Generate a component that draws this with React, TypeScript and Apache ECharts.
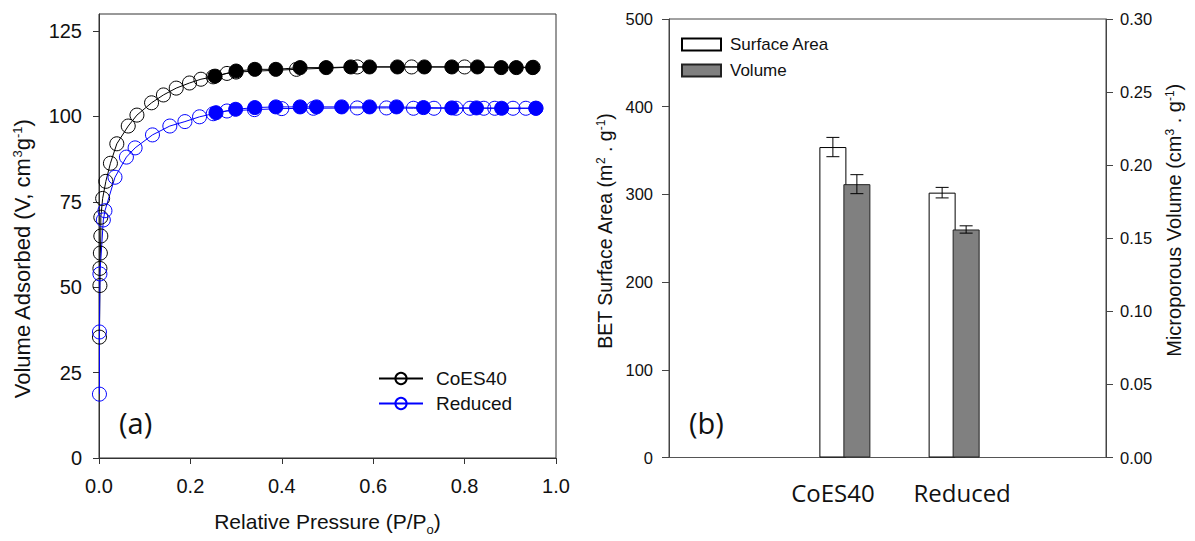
import React, { useEffect, useRef } from 'react';
import * as echarts from 'echarts';

// ---------- Panel (a): N2 isotherms ----------
const X_TICKS_A = [0, 0.2, 0.4, 0.6, 0.8, 1.0];
const Y_TICKS_A = [0, 25, 50, 75, 100, 125];

const coesAdsX = [0.001, 0.002, 0.002, 0.003, 0.004, 0.004, 0.008, 0.015, 0.025, 0.039, 0.064, 0.083, 0.115, 0.141, 0.169, 0.198, 0.223, 0.25, 0.28, 0.30, 0.432, 0.565, 0.684, 0.80, 0.95];
const coesAdsY = [35.4, 50.5, 55.5, 60, 65, 70.5, 76, 81, 86.3, 92, 97.2, 100.4, 104, 106.3, 108.3, 109.8, 110.9, 111.6, 112.6, 113.0, 113.8, 114.5, 114.5, 114.5, 114.4];

const coesDesX = [0.949, 0.913, 0.88, 0.828, 0.772, 0.712, 0.653, 0.592, 0.551, 0.497, 0.44, 0.387, 0.341, 0.30, 0.254];
const coesDesY = [114.3, 114.3, 114.3, 114.5, 114.5, 114.5, 114.5, 114.5, 114.5, 114.3, 114.3, 113.8, 113.8, 113.3, 111.8];

const redAdsX = [0.001, 0.001, 0.002, 0.0095, 0.013, 0.035, 0.06, 0.079, 0.117, 0.155, 0.188, 0.22, 0.25, 0.28, 0.34, 0.40, 0.469, 0.565, 0.629, 0.688, 0.733, 0.781, 0.812, 0.842, 0.866, 0.906, 0.934, 0.956];
const redAdsY = [18.7, 36.9, 53.9, 69.7, 72.4, 82.2, 88.1, 90.8, 94.6, 97.2, 98.5, 99.9, 100.8, 101.6, 102.0, 102.3, 102.4, 102.5, 102.5, 102.4, 102.4, 102.4, 102.4, 102.4, 102.4, 102.4, 102.4, 102.4];

const redDesX = [0.956, 0.881, 0.826, 0.772, 0.71, 0.651, 0.592, 0.531, 0.476, 0.44, 0.387, 0.341, 0.299, 0.256];
const redDesY = [102.4, 102.4, 102.5, 102.5, 102.6, 102.8, 102.8, 102.8, 102.8, 102.8, 102.8, 102.6, 102.1, 101.1];

// ---------- Panel (b): BET surface area & micropore volume ----------
const categoriesB = ['', 'CoES40', 'Reduced', ''];
const barSamples = ['CoES40', 'Reduced'];
const surfaceArea = [354, 302];
const surfaceErr = [11, 6];
const microVolume = [0.187, 0.156];
const volumeErr = [0.0065, 0.0025];
const Y_TICKS_B_LEFT = [0, 100, 200, 300, 400, 500];
const Y_TICKS_B_RIGHT = [0, 0.05, 0.1, 0.15, 0.2, 0.25, 0.3];

const ARIAL = 'Liberation Sans, Arial, sans-serif';
const CALIBRI = 'Open Sans, Lato, sans-serif';

const BAR_W = 27;
const BAR_OVERLAP = 3;
const CAP_W = 13;

function zip(xs: number[], ys: number[]) {
  return xs.map((x, i) => [x, ys[i]]);
}

function errRender(offsetPx: number) {
  return (params: any, api: any) => {
    const cat = api.value(0);
    const lo = api.value(1);
    const hi = api.value(2);
    const pLo = api.coord([cat, lo]);
    const pHi = api.coord([cat, hi]);
    const x = pLo[0] + offsetPx;
    const h = CAP_W / 2;
    const style = { stroke: '#000', lineWidth: 1 };
    return {
      type: 'group',
      children: [
        { type: 'line', shape: { x1: x, y1: pHi[1], x2: x, y2: pLo[1] }, style },
        { type: 'line', shape: { x1: x - h, y1: pHi[1], x2: x + h, y2: pHi[1] }, style },
        { type: 'line', shape: { x1: x - h, y1: pLo[1], x2: x + h, y2: pLo[1] }, style },
      ],
    };
  };
}

export default function App() {
  const ref = useRef<HTMLDivElement>(null);

  useEffect(() => {
    document.body.style.margin = '0';
    if (!ref.current) return;
    const chart = echarts.init(ref.current, undefined, { renderer: 'svg' });

    const axisLineA = { show: true, lineStyle: { color: '#333', width: 1 } };
    const catIdx = barSamples.map((s) => categoriesB.indexOf(s));

    const openStyle = (c: string) => ({ color: 'rgba(255,255,255,0)', borderColor: c, borderWidth: 1 });

    const option: any = {
      animation: false,
      backgroundColor: '#fff',
      textStyle: { fontFamily: ARIAL },
      grid: [
        { left: 99, right: 639, top: 14, bottom: 83, show: true, borderColor: '#333', borderWidth: 1, backgroundColor: 'transparent' },
        { left: 669, right: 89, top: 19, bottom: 83.5, show: true, borderColor: '#444', borderWidth: 1, backgroundColor: 'transparent' },
      ],
      xAxis: [
        {
          gridIndex: 0,
          type: 'value',
          min: 0,
          max: 1,
          interval: 0.2,
          axisLine: axisLineA,
          axisTick: { show: true, inside: false, length: 6, lineStyle: { color: '#333' } },
          splitLine: { show: false },
          axisLabel: {
            margin: 18,
            fontSize: 20,
            color: '#111',
            fontFamily: ARIAL,
            customValues: X_TICKS_A,
            formatter: (v: number) => v.toFixed(1),
          },
          name: 'Relative Pressure (P/P{sub|o})',
          nameLocation: 'middle',
          nameGap: 53,
          nameTextStyle: {
            fontSize: 21,
            color: '#111',
            fontFamily: ARIAL,
            rich: { sub: { fontSize: 13, verticalAlign: 'bottom', padding: [0, 0, -4, 0], color: '#111', fontFamily: ARIAL } },
          },
        },
        {
          gridIndex: 1,
          type: 'category',
          data: categoriesB,
          axisLine: { show: true, lineStyle: { color: '#555', width: 1 } },
          axisTick: { show: false },
          splitLine: { show: false },
          axisLabel: {
            margin: 23,
            fontSize: 24,
            color: '#111',
            fontFamily: CALIBRI,
            interval: 0,
            formatter: (v: string) => (v === 'Reduced' ? '{shift|' + v + '}' : v),
            rich: { shift: { fontSize: 24, fontFamily: CALIBRI, color: '#111', padding: [0, 0, 0, 40] } },
          },
        },
      ],
      yAxis: [
        {
          gridIndex: 0,
          type: 'value',
          min: 0,
          max: 130,
          axisLine: axisLineA,
          axisTick: { show: true, inside: false, length: 6, lineStyle: { color: '#333' }, customValues: Y_TICKS_A },
          splitLine: { show: false },
          axisLabel: { margin: 17, fontSize: 20, color: '#111', fontFamily: ARIAL, customValues: Y_TICKS_A },
          name: 'Volume Adsorbed (V, cm{sup|3}g{sup|-1})',
          nameLocation: 'middle',
          nameGap: 66,
          nameRotate: 90,
          nameTextStyle: {
            fontSize: 22,
            color: '#111',
            fontFamily: ARIAL,
            padding: [0, 46, 0, 0],
            rich: { sup: { fontSize: 13, verticalAlign: 'top', color: '#111', fontFamily: ARIAL } },
          },
        },
        {
          gridIndex: 1,
          type: 'value',
          min: 0,
          max: 500,
          interval: 100,
          position: 'left',
          axisLine: { show: true, lineStyle: { color: '#444', width: 1 } },
          axisTick: { show: true, inside: false, length: 7, lineStyle: { color: '#444' } },
          splitLine: { show: false },
          axisLabel: { margin: 16, fontSize: 16.5, color: '#111', fontFamily: ARIAL, customValues: Y_TICKS_B_LEFT },
          name: 'BET Surface Area (m{sup|2} . g{sup|-1})',
          nameLocation: 'middle',
          nameGap: 54,
          nameRotate: 90,
          nameTextStyle: {
            fontSize: 19.5,
            color: '#111',
            fontFamily: ARIAL,
            padding: [0, 0, 0, 14],
            rich: { sup: { fontSize: 12, verticalAlign: 'top', color: '#111', fontFamily: ARIAL } },
          },
        },
        {
          gridIndex: 1,
          type: 'value',
          min: 0,
          max: 0.3,
          interval: 0.05,
          position: 'right',
          axisLine: { show: true, lineStyle: { color: '#444', width: 1 } },
          axisTick: { show: true, inside: false, length: 7, lineStyle: { color: '#444' } },
          splitLine: { show: false },
          axisLabel: {
            margin: 14,
            fontSize: 16.5,
            color: '#111',
            fontFamily: ARIAL,
            customValues: Y_TICKS_B_RIGHT,
            formatter: (v: number) => v.toFixed(2),
          },
          name: 'Microporous Volume (cm{sup|3} . g{sup|-1})',
          nameLocation: 'middle',
          nameGap: 58,
          nameRotate: 90,
          nameTextStyle: {
            fontSize: 20,
            color: '#111',
            fontFamily: ARIAL,
            padding: [0, 0, 0, 36],
            rich: { sup: { fontSize: 12, verticalAlign: 'top', color: '#111', fontFamily: ARIAL } },
          },
        },
      ],
      legend: [
        {
          data: ['CoES40', 'Reduced'],
          orient: 'vertical',
          left: 373,
          top: 364,
          itemWidth: 44,
          itemHeight: 14,
          itemGap: 6,
          selectedMode: false,
          textStyle: { fontSize: 19, color: '#111', fontFamily: ARIAL, padding: [0, 0, 0, 8] },
        },
        {
          data: ['Surface Area', 'Volume'],
          orient: 'vertical',
          left: 676,
          top: 31,
          itemWidth: 39,
          itemHeight: 12,
          itemGap: 9,
          icon: 'rect',
          selectedMode: false,
          textStyle: { fontSize: 17, color: '#111', fontFamily: ARIAL, padding: [0, 0, 0, 4] },
        },
      ],
      graphic: [
        { type: 'text', left: 119, top: 408, style: { text: '(a)', fontSize: 29, fontFamily: CALIBRI, fill: '#111' } },
        { type: 'text', left: 689, top: 408, style: { text: '(b)', fontSize: 29, fontFamily: CALIBRI, fill: '#111' } },
      ],
      series: [
        {
          name: 'CoES40',
          type: 'line',
          xAxisIndex: 0,
          yAxisIndex: 0,
          data: zip(coesAdsX, coesAdsY),
          symbol: 'circle',
          symbolSize: 14,
          itemStyle: openStyle('#000'),
          lineStyle: { color: '#000', width: 1 },
          z: 3,
        },
        {
          name: 'Reduced',
          type: 'line',
          xAxisIndex: 0,
          yAxisIndex: 0,
          data: zip(redAdsX, redAdsY),
          symbol: 'circle',
          symbolSize: 14,
          itemStyle: openStyle('#0000ff'),
          lineStyle: { color: '#0000ff', width: 1 },
          z: 3,
        },
        {
          name: 'CoES40 desorption',
          type: 'line',
          xAxisIndex: 0,
          yAxisIndex: 0,
          data: zip(coesDesX, coesDesY),
          symbol: 'circle',
          symbolSize: 14,
          itemStyle: { color: '#000', borderColor: '#000', borderWidth: 1 },
          lineStyle: { color: '#000', width: 1 },
          z: 4,
        },
        {
          name: 'Reduced desorption',
          type: 'line',
          xAxisIndex: 0,
          yAxisIndex: 0,
          data: zip(redDesX, redDesY),
          symbol: 'circle',
          symbolSize: 14,
          itemStyle: { color: '#0000ff', borderColor: '#0000ff', borderWidth: 1 },
          lineStyle: { color: '#0000ff', width: 1 },
          z: 4,
        },
        {
          name: '_slot',
          type: 'bar',
          xAxisIndex: 1,
          yAxisIndex: 1,
          data: [],
          barWidth: BAR_W,
          barGap: (-BAR_OVERLAP / BAR_W) * 100 + '%',
          silent: true,
        },
        {
          name: 'Surface Area',
          type: 'bar',
          xAxisIndex: 1,
          yAxisIndex: 1,
          data: categoriesB.map((c) => {
            const i = barSamples.indexOf(c);
            return i >= 0 ? surfaceArea[i] : '-';
          }),
          barWidth: BAR_W,
          barGap: (-BAR_OVERLAP / BAR_W) * 100 + '%',
          itemStyle: { color: '#fff', borderColor: '#000', borderWidth: 1 },
          z: 2,
        },
        {
          name: 'Volume',
          type: 'bar',
          xAxisIndex: 1,
          yAxisIndex: 2,
          data: categoriesB.map((c) => {
            const i = barSamples.indexOf(c);
            return i >= 0 ? microVolume[i] : '-';
          }),
          barWidth: BAR_W,
          barGap: (-BAR_OVERLAP / BAR_W) * 100 + '%',
          itemStyle: { color: '#808080', borderColor: '#222', borderWidth: 1 },
          z: 3,
        },
        {
          name: 'Surface Area error',
          type: 'custom',
          xAxisIndex: 1,
          yAxisIndex: 1,
          renderItem: errRender(0),
          encode: { x: 0, y: [1, 2] },
          data: catIdx.map((ci, i) => [ci, surfaceArea[i] - surfaceErr[i], surfaceArea[i] + surfaceErr[i]]),
          z: 5,
          silent: true,
        },
        {
          name: 'Volume error',
          type: 'custom',
          xAxisIndex: 1,
          yAxisIndex: 2,
          renderItem: errRender(BAR_W - BAR_OVERLAP),
          encode: { x: 0, y: [1, 2] },
          data: catIdx.map((ci, i) => [ci, microVolume[i] - volumeErr[i], microVolume[i] + volumeErr[i]]),
          z: 5,
          silent: true,
        },
      ],
    };

    chart.setOption(option);
    return () => chart.dispose();
  }, []);

  return <div ref={ref} style={{ width: 1195, height: 541 }} />;
}
